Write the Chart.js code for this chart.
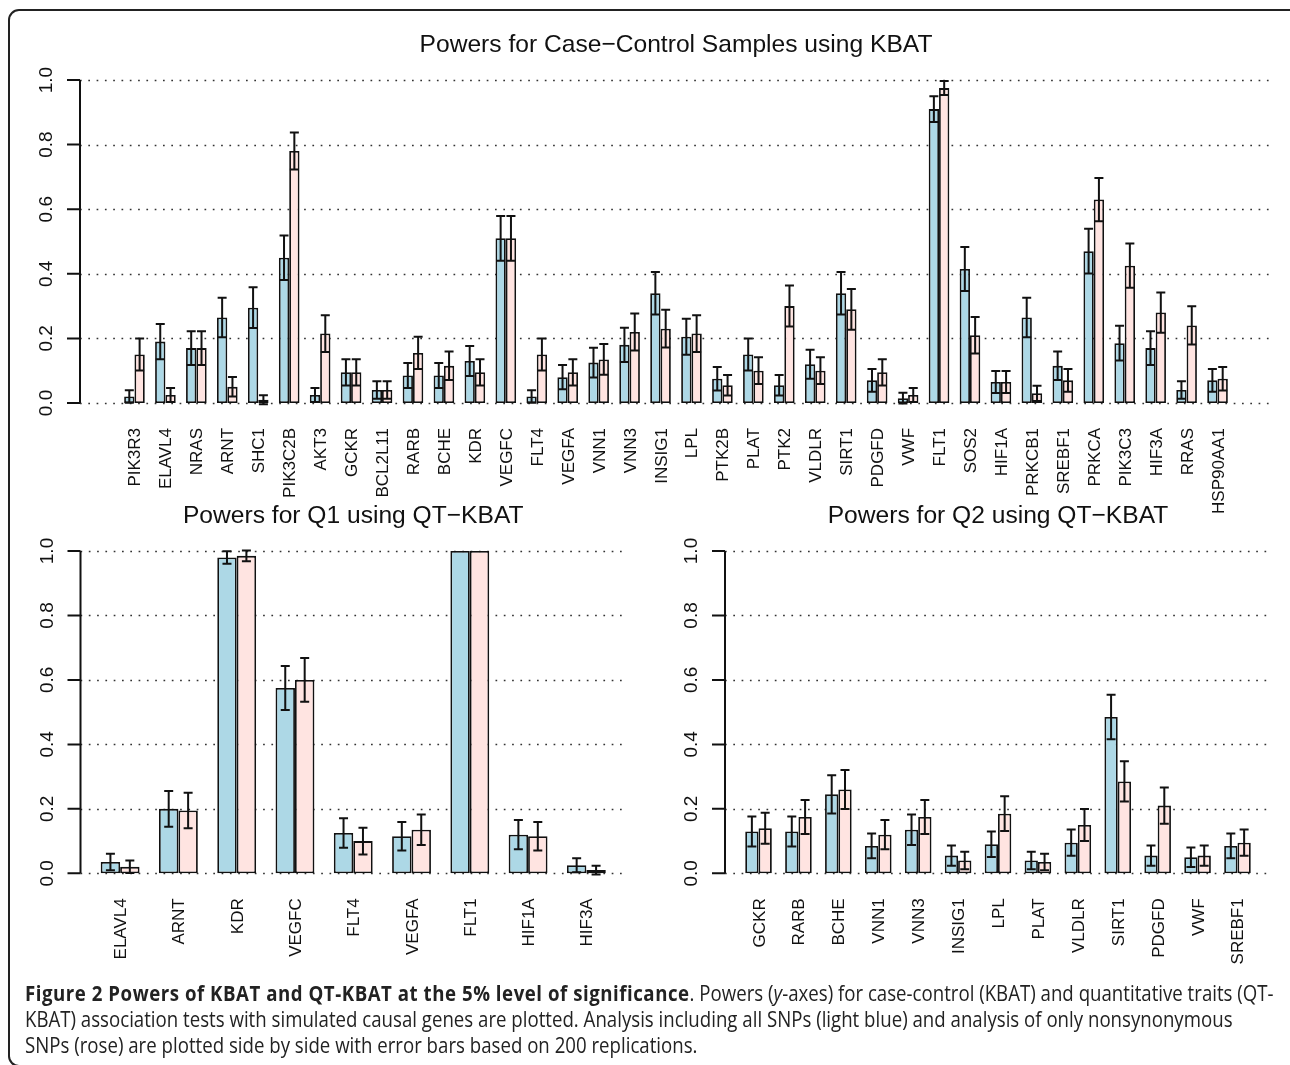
<!DOCTYPE html>
<html>
<head>
<meta charset="utf-8">
<script src="https://cdn.jsdelivr.net/npm/chart.js@4.4.0/dist/chart.umd.min.js"></script>
<style>
  body { margin: 0; width: 1290px; height: 1065px; background: #fff; position: relative; overflow: hidden; }
  canvas.panel { position: absolute; left: 0; top: 0; }
  #frame { position: absolute; left: 8px; top: 9px; width: 1300px; height: 1058px; border: 2px solid #222; border-radius: 11px; box-sizing: border-box; }
  #caption { position: absolute; left: 25px; top: 980px; font-family: "Open Sans", sans-serif; font-size: 21px; line-height: 26px; color: #222; white-space: nowrap; transform-origin: 0 0; transform: scaleX(0.888); }
  #caption b { font-weight: 700; letter-spacing: 0.6px; }
</style>
</head>
<body>
<div id="frame"></div>
<canvas class="panel" id="topChart" width="1290" height="1065"></canvas>
<canvas class="panel" id="q1Chart" width="1290" height="1065"></canvas>
<canvas class="panel" id="q2Chart" width="1290" height="1065"></canvas>
<div id="caption">
  <b>Figure 2 Powers of KBAT and QT-KBAT at the 5% level of significance</b>. Powers (<i>y</i>-axes) for case-control (KBAT) and quantitative traits (QT-<br>
  KBAT) association tests with simulated causal genes are plotted. Analysis including all SNPs (light blue) and analysis of only nonsynonymous<br>
  SNPs (rose) are plotted side by side with error bars based on 200 replications.
</div>
<script>
// Case-control panel (KBAT)
const topGenes = ["PIK3R3", "ELAVL4", "NRAS", "ARNT", "SHC1", "PIK3C2B", "AKT3", "GCKR", "BCL2L11", "RARB",
    "BCHE", "KDR", "VEGFC", "FLT4", "VEGFA", "VNN1", "VNN3", "INSIG1", "LPL", "PTK2B", "PLAT", "PTK2",
    "VLDLR", "SIRT1", "PDGFD", "VWF", "FLT1", "SOS2", "HIF1A", "PRKCB1", "SREBF1", "PRKCA", "PIK3C3",
    "HIF3A", "RRAS", "HSP90AA1"];
const topAllSnps = [0.02, 0.19, 0.17, 0.265, 0.295, 0.45, 0.025, 0.095, 0.04, 0.085,
    0.085, 0.13, 0.51, 0.02, 0.08, 0.125, 0.18, 0.34, 0.205, 0.075, 0.15, 0.055,
    0.12, 0.34, 0.07, 0.015, 0.91, 0.415, 0.065, 0.265, 0.115, 0.47, 0.185,
    0.17, 0.04, 0.07];
const topNonsyn = [0.15, 0.025, 0.17, 0.05, 0.01, 0.78, 0.215, 0.095, 0.04, 0.155,
    0.115, 0.095, 0.51, 0.15, 0.095, 0.135, 0.22, 0.23, 0.215, 0.055, 0.1, 0.3,
    0.1, 0.29, 0.095, 0.025, 0.975, 0.21, 0.065, 0.03, 0.07, 0.63, 0.425,
    0.28, 0.24, 0.075];

// Q1 panel (QT-KBAT)
const q1Genes = ["ELAVL4", "ARNT", "KDR", "VEGFC", "FLT4", "VEGFA", "FLT1", "HIF1A", "HIF3A"];
const q1AllSnps = [0.035, 0.2, 0.98, 0.575, 0.125, 0.115, 1.0, 0.12, 0.025];
const q1Nonsyn = [0.02, 0.195, 0.985, 0.6, 0.1, 0.135, 1.0, 0.115, 0.01];

// Q2 panel (QT-KBAT)
const q2Genes = ["GCKR", "RARB", "BCHE", "VNN1", "VNN3", "INSIG1", "LPL", "PLAT", "VLDLR", "SIRT1",
    "PDGFD", "VWF", "SREBF1"];
const q2AllSnps = [0.13, 0.13, 0.245, 0.085, 0.135, 0.055, 0.09, 0.04, 0.095, 0.485, 0.055, 0.05, 0.085];
const q2Nonsyn = [0.14, 0.175, 0.26, 0.12, 0.175, 0.04, 0.185, 0.035, 0.15, 0.285, 0.21, 0.055, 0.095];

const yTicks = [0, 0.2, 0.4, 0.6, 0.8, 1.0];
const yTickLabels = ["0.0", "0.2", "0.4", "0.6", "0.8", "1.0"];
const nReps = 200; // error bars: 95% interval over 200 replications

const blue = "#ADD8E6";
const rose = "#FFE4E1";
const ink = "#111";
const font = '"Liberation Sans", Arial, sans-serif';

// draws the R style parts: dotted grid, axis, rotated labels, error bars, title
const rStyle = {
    id: "rStyle",
    beforeDatasetsDraw(chart) {
        const { ctx, chartArea } = chart;
        const y = chart.scales.y;
        ctx.save();
        ctx.strokeStyle = "#333";
        ctx.lineWidth = 1.7;
        ctx.setLineDash([1.7, 6.6]);
        yTicks.forEach(v => {
            const py = Math.round(y.getPixelForValue(v)) + 0.5;
            ctx.beginPath();
            ctx.moveTo(chartArea.left, py);
            ctx.lineTo(chartArea.right, py);
            ctx.stroke();
        });
        ctx.restore();
    },
    afterDatasetsDraw(chart, args, opts) {
        const { ctx, chartArea } = chart;
        const x = chart.scales.x;
        const y = chart.scales.y;
        ctx.save();
        ctx.strokeStyle = ink;
        ctx.fillStyle = ink;

        // error bars
        ctx.lineWidth = 2;
        chart.data.datasets.forEach((ds, d) => {
            chart.getDatasetMeta(d).data.forEach((bar, i) => {
                const p = ds.data[i].y;
                const half = 1.96 * Math.sqrt(p * (1 - p) / nReps);
                if (half <= 0) return;
                const top = y.getPixelForValue(p + half);
                const bot = y.getPixelForValue(p - half);
                ctx.beginPath();
                ctx.moveTo(bar.x, top); ctx.lineTo(bar.x, bot);
                ctx.moveTo(bar.x - 4.5, top); ctx.lineTo(bar.x + 4.5, top);
                ctx.moveTo(bar.x - 4.5, bot); ctx.lineTo(bar.x + 4.5, bot);
                ctx.stroke();
            });
        });

        // y axis
        const y0 = y.getPixelForValue(0);
        const y1 = y.getPixelForValue(1);
        const ax = chartArea.left;
        ctx.lineWidth = 2;
        ctx.beginPath();
        ctx.moveTo(ax, y0); ctx.lineTo(ax, y1);
        yTicks.forEach(v => {
            const py = y.getPixelForValue(v);
            ctx.moveTo(ax - 13, py); ctx.lineTo(ax, py);
        });
        ctx.stroke();

        ctx.font = "19px " + font;
        ctx.textAlign = "center";
        ctx.textBaseline = "alphabetic";
        yTicks.forEach((v, k) => {
            ctx.save();
            ctx.translate(ax - 28, y.getPixelForValue(v));
            ctx.rotate(-Math.PI / 2);
            ctx.fillText(yTickLabels[k], 0, 0);
            ctx.restore();
        });

        // gene labels
        ctx.font = "17px " + font;
        ctx.textAlign = "right";
        opts.genes.forEach((g, i) => {
            ctx.save();
            ctx.translate(x.getPixelForValue(2 + 3 * i) + 6, y0 + 25);
            ctx.rotate(-Math.PI / 2);
            ctx.fillText(g, 0, 0);
            ctx.restore();
        });

        // title
        ctx.font = "24.6px " + font;
        ctx.textAlign = "center";
        ctx.fillText(opts.title, (chartArea.left + chartArea.right) / 2, y1 - 28);
        ctx.restore();
    }
};

function makePanel(id, genes, allSnps, nonsyn, title, box) {
    // R barplot(beside = TRUE): group i spans [1 + 3i, 3 + 3i], range padded by 4%
    const pad = 0.04 * (3 * genes.length - 1);
    const centers = genes.map((g, i) => 2 + 3 * i);
    return new Chart(id, {
        type: "bar",
        data: {
            datasets: [
                { data: allSnps.map((v, i) => ({ x: centers[i], y: v })), backgroundColor: blue },
                { data: nonsyn.map((v, i) => ({ x: centers[i], y: v })), backgroundColor: rose }
            ]
        },
        options: {
            responsive: false,
            animation: false,
            events: [],
            layout: {
                padding: { left: box.left, right: 1290 - box.right, top: box.top, bottom: 1065 - box.bottom }
            },
            datasets: {
                bar: {
                    borderColor: ink,
                    borderWidth: 1.8,
                    borderSkipped: false,
                    categoryPercentage: 2 / 3,
                    barPercentage: 1
                }
            },
            scales: {
                x: {
                    type: "linear",
                    display: false,
                    offset: false,
                    min: 1 - pad,
                    max: 3 * genes.length + pad,
                    afterBuildTicks: axis => { axis.ticks = centers.map(c => ({ value: c })); }
                },
                y: { display: false, min: -0.04, max: 1.04 }
            },
            plugins: {
                legend: { display: false },
                tooltip: { enabled: false },
                rStyle: { genes: genes, title: title }
            }
        },
        plugins: [rStyle]
    });
}

makePanel("topChart", topGenes, topAllSnps, topNonsyn, "Powers for Case\u2212Control Samples using KBAT",
    { left: 80, right: 1272, top: 67.1, bottom: 415.9 });
makePanel("q1Chart", q1Genes, q1AllSnps, q1Nonsyn, "Powers for Q1 using QT\u2212KBAT",
    { left: 80.5, right: 626, top: 538.1, bottom: 886.2 });
makePanel("q2Chart", q2Genes, q2AllSnps, q2Nonsyn, "Powers for Q2 using QT\u2212KBAT",
    { left: 725, right: 1271, top: 538.1, bottom: 886.2 });
</script>
</body>
</html>
